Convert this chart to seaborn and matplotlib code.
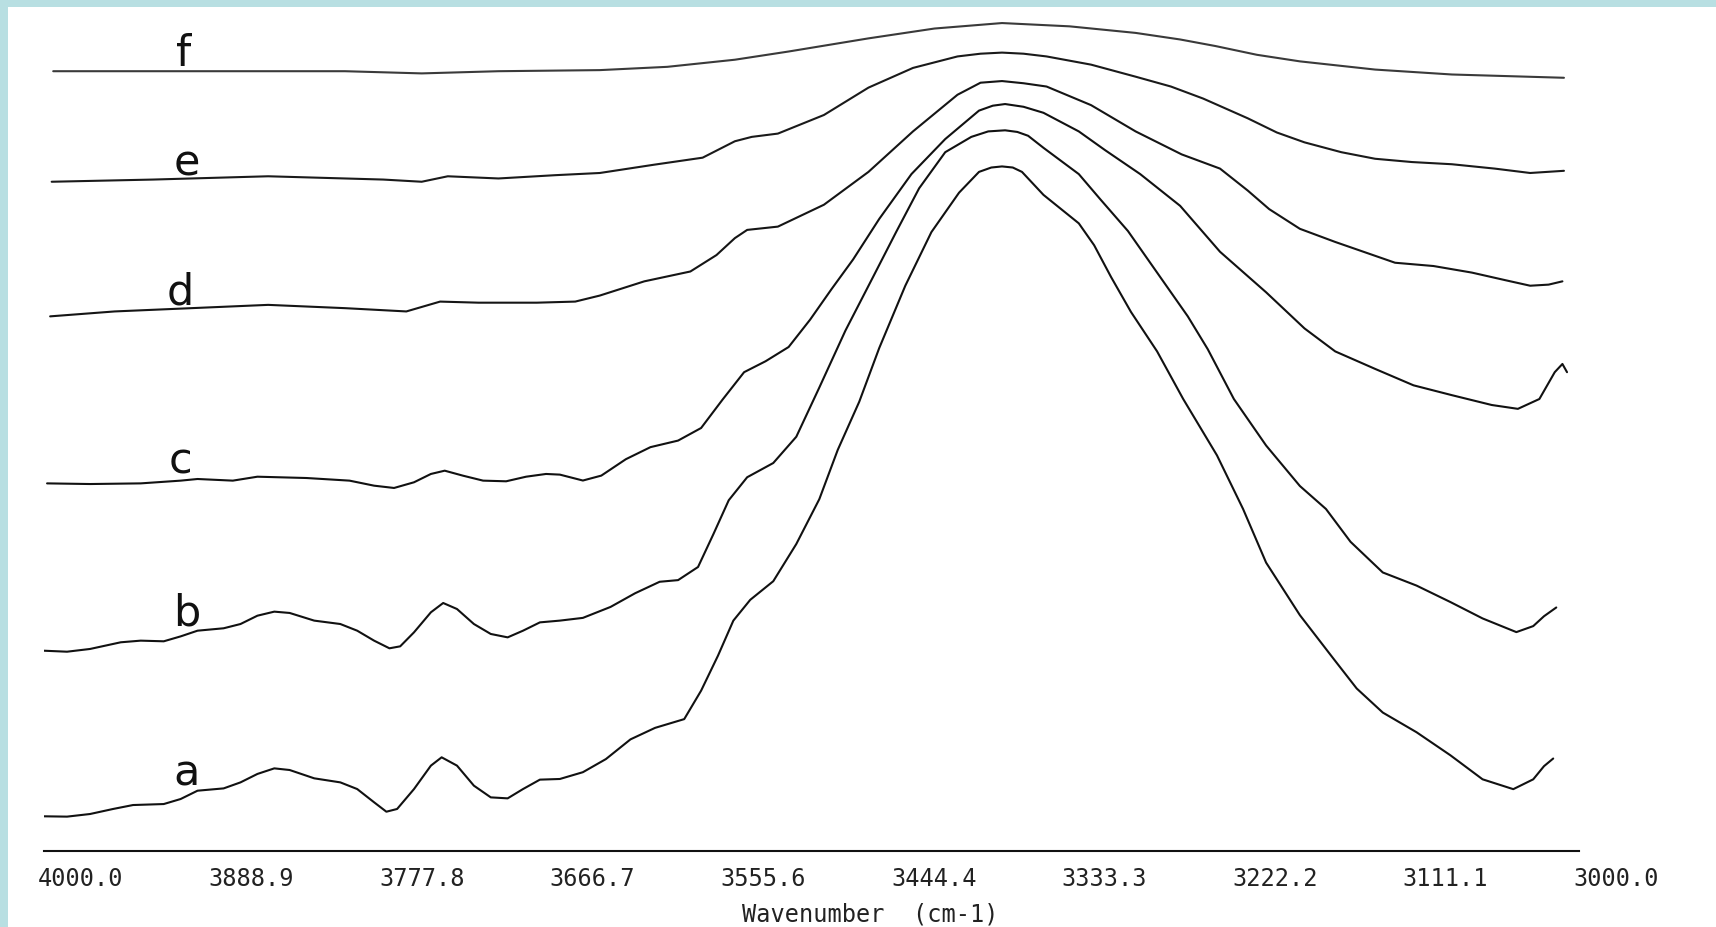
import matplotlib
matplotlib.use("Agg")
import matplotlib.pyplot as plt
import matplotlib.transforms as mtransforms
from matplotlib.patches import Rectangle
import seaborn as sns
import pandas as pd

# Espectros IR (absorbancia deslocada, u.a.)
wn_a = [4000, 3985, 3970, 3955, 3942, 3922, 3911, 3900, 3883, 3872, 3861, 3850, 3840, 3824, 3807,
        3796, 3785, 3777, 3770, 3759, 3748, 3741, 3731, 3720, 3709, 3698, 3688, 3677, 3664, 3649,
        3634, 3618, 3602, 3583, 3572, 3561, 3551, 3540, 3525, 3510, 3495, 3483, 3469, 3456, 3439,
        3422, 3404, 3391, 3383, 3376, 3369, 3363, 3349, 3326, 3316, 3305, 3292, 3275, 3258, 3236,
        3219, 3204, 3182, 3160, 3145, 3128, 3106, 3084, 3063, 3043, 3030, 3023, 3017]
abs_a = [0.317, 0.314, 0.338, 0.384, 0.420, 0.429, 0.475, 0.551, 0.572, 0.627, 0.704, 0.755, 0.740, 0.664, 0.627,
         0.566, 0.445, 0.359, 0.384, 0.566, 0.780, 0.856, 0.780, 0.597, 0.490, 0.481, 0.566, 0.652, 0.658, 0.72,
         0.84, 1.02, 1.125, 1.205, 1.465, 1.785, 2.105, 2.295, 2.465, 2.805, 3.215, 3.665, 4.105, 4.595, 5.165,
         5.655, 6.015, 6.205, 6.245, 6.255, 6.245, 6.205, 5.995, 5.735, 5.535, 5.245, 4.925, 4.565, 4.13, 3.615,
         3.125, 2.635, 2.155, 1.755, 1.485, 1.265, 1.085, 0.875, 0.655, 0.565, 0.655, 0.775, 0.845]

wn_b = [4000, 3985, 3970, 3950, 3937, 3922, 3911, 3900, 3883, 3872, 3861, 3850, 3840, 3824, 3807,
        3796, 3785, 3775, 3768, 3759, 3748, 3740, 3731, 3720, 3709, 3698, 3688, 3677, 3664, 3649,
        3631, 3615, 3599, 3587, 3574, 3564, 3554, 3542, 3525, 3510, 3495, 3478, 3460, 3445, 3430,
        3413, 3396, 3385, 3374, 3366, 3359, 3349, 3326, 3312, 3294, 3275, 3255, 3242, 3225, 3204,
        3182, 3165, 3149, 3128, 3106, 3084, 3063, 3041, 3030, 3023, 3015]
abs_b = [1.83, 1.821, 1.846, 1.907, 1.922, 1.916, 1.961, 2.013, 2.035, 2.074, 2.150, 2.187, 2.175, 2.105, 2.074,
         2.013, 1.922, 1.852, 1.870, 1.998, 2.181, 2.266, 2.211, 2.074, 1.983, 1.952, 2.013, 2.089, 2.105, 2.13,
         2.23, 2.355, 2.46, 2.475, 2.595, 2.895, 3.205, 3.415, 3.545, 3.785, 4.235, 4.755, 5.245, 5.655, 6.055,
         6.385, 6.525, 6.575, 6.585, 6.57, 6.535, 6.425, 6.185, 5.955, 5.665, 5.285, 4.885, 4.585, 4.13, 3.705,
         3.335, 3.125, 2.825, 2.545, 2.425, 2.275, 2.125, 2.00, 2.055, 2.145, 2.225]

wn_c = [3998, 3970, 3937, 3911, 3900, 3877, 3861, 3829, 3801, 3785, 3772, 3759, 3748, 3739, 3727,
        3714, 3699, 3686, 3673, 3664, 3649, 3637, 3621, 3605, 3587, 3572, 3558, 3544, 3530, 3515,
        3501, 3487, 3473, 3456, 3435, 3413, 3391, 3382, 3374, 3362, 3349, 3326, 3309, 3286, 3260,
        3234, 3204, 3179, 3159, 3133, 3108, 3083, 3057, 3040, 3026, 3016, 3011, 3008]
abs_c = [3.359, 3.353, 3.359, 3.384, 3.399, 3.384, 3.420, 3.408, 3.384, 3.338, 3.317, 3.369, 3.445, 3.475, 3.429,
         3.384, 3.378, 3.420, 3.445, 3.439, 3.385, 3.43, 3.58, 3.69, 3.75, 3.865, 4.125, 4.375, 4.475, 4.605,
         4.855, 5.135, 5.405, 5.775, 6.185, 6.505, 6.765, 6.81, 6.825, 6.80, 6.745, 6.575, 6.405, 6.185, 5.895,
         5.475, 5.105, 4.775, 4.565, 4.405, 4.255, 4.165, 4.075, 4.04, 4.13, 4.375, 4.45, 4.375]

wn_d = [3996, 3954, 3904, 3854, 3804, 3764, 3742, 3717, 3679, 3654, 3638, 3609, 3579, 3562, 3550,
        3542, 3522, 3492, 3463, 3434, 3405, 3390, 3376, 3362, 3347, 3318, 3289, 3259, 3234, 3216,
        3202, 3182, 3159, 3120, 3095, 3070, 3048, 3032, 3020, 3011]
abs_d = [4.885, 4.93, 4.96, 4.99, 4.96, 4.93, 5.02, 5.01, 5.01, 5.02, 5.075, 5.205, 5.295, 5.445, 5.60,
         5.675, 5.705, 5.905, 6.205, 6.575, 6.91, 7.02, 7.035, 7.015, 6.985, 6.815, 6.575, 6.365, 6.235, 6.035,
         5.865, 5.685, 5.565, 5.375, 5.345, 5.285, 5.215, 5.165, 5.175, 5.205]

wn_e = [3995, 3929, 3854, 3779, 3754, 3737, 3704, 3667, 3638, 3603, 3571, 3550, 3539, 3522, 3492,
        3463, 3434, 3405, 3390, 3376, 3362, 3347, 3318, 3289, 3266, 3245, 3216, 3197, 3179, 3155,
        3133, 3109, 3083, 3055, 3032, 3010]
abs_e = [6.115, 6.135, 6.165, 6.135, 6.115, 6.165, 6.145, 6.175, 6.195, 6.27, 6.335, 6.485, 6.525, 6.555, 6.725,
         6.975, 7.155, 7.26, 7.285, 7.295, 7.285, 7.26, 7.185, 7.075, 6.985, 6.875, 6.695, 6.565, 6.475, 6.385,
         6.325, 6.295, 6.275, 6.235, 6.195, 6.215]

wn_f = [3994, 3904, 3804, 3754, 3704, 3638, 3594, 3550, 3515, 3463, 3420, 3376, 3332, 3289, 3260,
        3237, 3210, 3182, 3133, 3083, 3010]
abs_f = [7.125, 7.125, 7.125, 7.105, 7.125, 7.135, 7.165, 7.23, 7.305, 7.425, 7.515, 7.565, 7.535, 7.475, 7.415,
         7.355, 7.275, 7.215, 7.14, 7.095, 7.065]

amostras = ["a", "b", "c", "d", "e", "f"]
pos_rotulos = [(3907, 0.605), (3907, 2.065), (3911, 3.455), (3911, 5.005), (3907, 6.185), (3909, 7.185)]

ticks_wn = [4000.0, 3888.9, 3777.8, 3666.7, 3555.6, 3444.4, 3333.3, 3222.2, 3111.1, 3000.0]
ticks_txt = ["4000.0", "3888.9", "3777.8", "3666.7", "3555.6", "3444.4", "3333.3", "3222.2", "3111.1", "3000.0"]

sns.set_style("white")
plt.rcParams['font.family'] = ['DejaVu Sans']

fig = plt.figure(figsize=(17.16, 9.28), dpi=100)
fig.patch.set_facecolor("white")
# moldura azul clara (topo e esquerda) da digitalizacao
fig.add_artist(Rectangle((0, 1 - 8 / 928), 1, 8 / 928, transform=fig.transFigure,
                         facecolor="#b8dfe2", edgecolor="none"))
fig.add_artist(Rectangle((0, 0), 8 / 1716, 1, transform=fig.transFigure,
                         facecolor="#b8dfe2", edgecolor="none"))

ax = fig.add_axes([0.02564, 0.0819, 0.8947, 0.9081])
ax.set_facecolor("none")

espectros = [(wn_a, abs_a), (wn_b, abs_b), (wn_c, abs_c), (wn_d, abs_d), (wn_e, abs_e), (wn_f, abs_f)]
cores = ["#111111", "#111111", "#111111", "#151515", "#1a1a1a", "#3a3a3a"]
for (wn, ab), cor in zip(espectros, cores):
    df = pd.DataFrame({"wn": wn, "abs": ab})
    sns.lineplot(data=df, x="wn", y="abs", ax=ax, color=cor, lw=1.5, sort=False, estimator=None,
                 solid_joinstyle="round", solid_capstyle="round")

for nome, (xr, yr) in zip(amostras, pos_rotulos):
    ax.text(xr, yr, nome, ha="center", va="baseline", fontsize=31, color="#111111",
            family="DejaVu Sans")

ax.set_xlim(4000, 3000)
ax.set_ylim(0, 7.70)
for lado in ["left", "right", "top"]:
    ax.spines[lado].set_visible(False)
ax.spines["bottom"].set_linewidth(1.5)
ax.spines["bottom"].set_color("#111111")
ax.set_yticks([])
ax.set_ylabel("")
ax.set_xticks(ticks_wn)
ax.set_xticklabels(ticks_txt, family="DejaVu Sans Mono", fontsize=17, color="#222222")
ax.tick_params(axis="x", direction="inout", length=14, width=1.5, color="#111111", pad=4)
offset = mtransforms.ScaledTranslation(-0.06, 0, fig.dpi_scale_trans)
for lbl in ax.get_xticklabels():
    lbl.set_ha("left")
    lbl.set_transform(lbl.get_transform() + offset)

ax.set_xlabel("Wavenumber  (cm-1)", family="DejaVu Sans Mono", fontsize=17, color="#222222")
ax.xaxis.set_label_coords(0.538, -0.074)
ax.xaxis.label.set_va("center")

fig.savefig("out.png", dpi=100)
